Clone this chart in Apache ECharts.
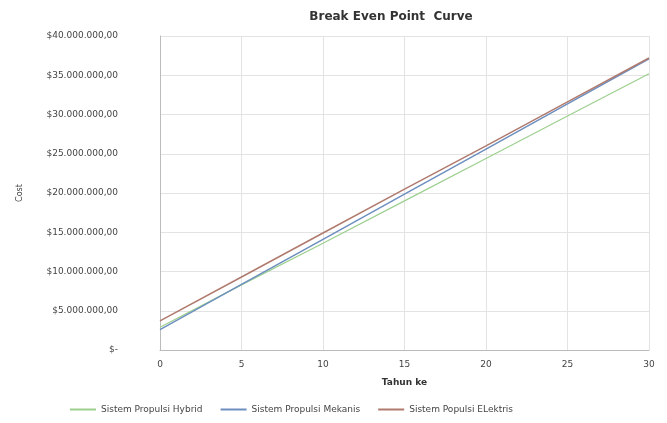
<!DOCTYPE html>
<html>
<head>
<meta charset="utf-8">
<script src="https://cdn.jsdelivr.net/npm/echarts@6/dist/echarts.min.js"></script>
<style>
  html, body { margin: 0; padding: 0; background: #fff; }
  #chart { width: 667px; height: 423px; }
</style>
</head>
<body>
<div id="chart"></div>
<script>
// year ticks and cost values (USD)
const years = [0, 5, 10, 15, 20, 25, 30];
const hybrid = [2900000, 8300000, 13600000, 19000000, 24400000, 29800000, 35200000];
const mekanis = [2600000, 8350000, 14100000, 19850000, 25600000, 31350000, 37100000];
const elektris = [3700000, 9300000, 14900000, 20500000, 26000000, 31600000, 37200000];

const font = "'DejaVu Sans', Verdana, sans-serif";

function money(v) {
  if (v === 0) return '$-';
  const s = Math.round(v).toString().replace(/\B(?=(\d{3})+(?!\d))/g, '.');
  return '$' + s + ',00';
}

const pairs = arr => years.map((y, i) => [y, arr[i]]);

const chart = echarts.init(document.getElementById('chart'));
chart.setOption({
  animation: false,
  title: {
    text: 'Break Even Point  Curve',
    left: 386, top: 6, textAlign: 'center',
    textStyle: {fontFamily: font, fontSize: 12, fontWeight: 'bold', color: '#333'},
  },
  grid: {left: 160, right: 18, top: 36, bottom: 73},
  legend: {
    bottom: 4, left: 65,
    itemWidth: 26, itemHeight: 2, itemGap: 18,
    icon: 'rect',
    textStyle: {fontFamily: font, fontSize: 9, color: '#444'},
    data: ['Sistem Propulsi Hybrid', 'Sistem Propulsi Mekanis', 'Sistem Populsi ELektris'],
  },
  xAxis: {
    type: 'value', min: 0, max: 30, interval: 5,
    name: 'Tahun ke', nameLocation: 'middle', nameGap: 28,
    nameTextStyle: {fontFamily: font, fontSize: 9, fontWeight: 'bold', color: '#333'},
    axisLine: {lineStyle: {color: '#bbb'}},
    axisTick: {show: false},
    axisLabel: {fontFamily: font, fontSize: 9, color: '#444', margin: 10},
    splitLine: {lineStyle: {color: '#e3e3e3'}},
  },
  yAxis: {
    type: 'value', min: 0, max: 40000000, interval: 5000000,
    name: 'Cost', nameLocation: 'middle', nameGap: 136, nameRotate: 90,
    nameTextStyle: {fontFamily: font, fontSize: 8, color: '#444'},
    axisLine: {show: true, lineStyle: {color: '#bbb'}},
    axisTick: {show: false},
    axisLabel: {fontFamily: font, fontSize: 9, color: '#444', margin: 42, formatter: money},
    splitLine: {lineStyle: {color: '#e3e3e3'}},
  },
  series: [
    {name: 'Sistem Propulsi Hybrid', type: 'line', data: pairs(hybrid), color: '#9ccf8e',
      symbol: 'none', lineStyle: {width: 1.2}},
    {name: 'Sistem Propulsi Mekanis', type: 'line', data: pairs(mekanis), color: '#6d8fbf',
      symbol: 'none', lineStyle: {width: 1.5}},
    {name: 'Sistem Populsi ELektris', type: 'line', data: pairs(elektris), color: '#b07a6e',
      symbol: 'none', lineStyle: {width: 1.5}},
  ],
});
</script>
</body>
</html>
